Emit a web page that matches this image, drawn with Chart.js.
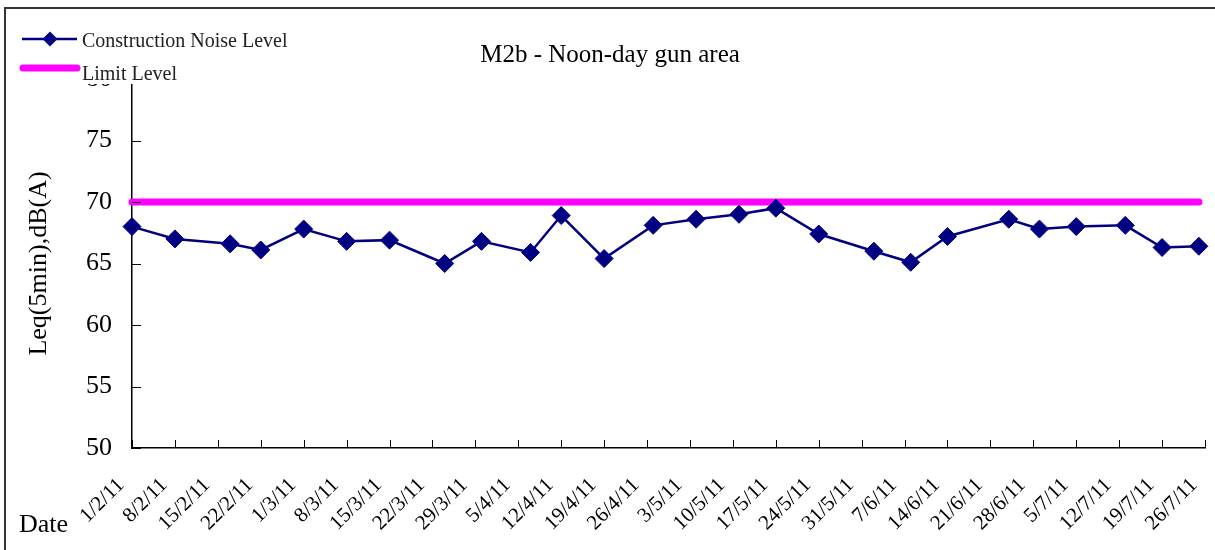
<!DOCTYPE html>
<html>
<head>
<meta charset="utf-8">
<script src="https://cdn.jsdelivr.net/npm/chart.js@4.4.1/dist/chart.umd.min.js"></script>
<style>
  html, body { margin: 0; padding: 0; background: #fff; overflow: hidden; }
  #wrap { width: 1215px; height: 550px; position: relative; }
</style>
</head>
<body>
<div id="wrap"><canvas id="myChart" width="1215" height="550"></canvas></div>
<script>
// sampling dates (d/m/yy) and measured levels
var sampleDates = ['1/2/11', '8/2/11', '17/2/11', '22/2/11', '1/3/11', '8/3/11', '15/3/11',
  '24/3/11', '30/3/11', '7/4/11', '12/4/11', '19/4/11', '27/4/11', '4/5/11', '11/5/11',
  '17/5/11', '24/5/11', '2/6/11', '8/6/11', '14/6/11', '24/6/11', '29/6/11', '5/7/11',
  '13/7/11', '19/7/11', '25/7/11'];
var noiseLevels = [68.0, 67.0, 66.6, 66.1, 67.8, 66.8, 66.9, 65.0, 66.8, 65.9, 68.9, 65.4, 68.1,
  68.6, 69.0, 69.5, 67.4, 66.0, 65.1, 67.2, 68.6, 67.8, 68.0, 68.1, 66.3, 66.4];
var limitLevels = [70, 70, 70, 70, 70, 70, 70, 70, 70, 70, 70, 70, 70,
  70, 70, 70, 70, 70, 70, 70, 70, 70, 70, 70, 70, 70];
var tickLabels = ['1/2/11', '8/2/11', '15/2/11', '22/2/11', '1/3/11', '8/3/11', '15/3/11',
  '22/3/11', '29/3/11', '5/4/11', '12/4/11', '19/4/11', '26/4/11', '3/5/11', '10/5/11',
  '17/5/11', '24/5/11', '31/5/11', '7/6/11', '14/6/11', '21/6/11', '28/6/11', '5/7/11',
  '12/7/11', '19/7/11', '26/7/11'];

var FONT = "'Liberation Serif', 'Times New Roman', serif";

// days since the first tick date
function dayNum(s) {
  var p = s.split('/');
  var t = Date.UTC(2000 + Number(p[2]), Number(p[1]) - 1, Number(p[0]));
  return Math.round((t - Date.UTC(2011, 1, 1)) / 86400000);
}

function toPoints(vals) {
  return sampleDates.map(function(d, i) { return { x: dayNum(d), y: vals[i] }; });
}

var extras = {
  id: 'extras',
  afterDraw: function(chart) {
    var ctx = chart.ctx;
    var xs = chart.scales.x, ys = chart.scales.y;
    ctx.save();
    // inward tick marks
    ctx.strokeStyle = '#000';
    ctx.lineWidth = 1;
    ctx.beginPath();
    ys.ticks.forEach(function(t) {
      var py = Math.round(ys.getPixelForValue(t.value)) + 0.5;
      ctx.moveTo(xs.left, py);
      ctx.lineTo(xs.left + 9, py);
    });
    xs.ticks.forEach(function(t) {
      var px = Math.round(xs.getPixelForValue(t.value)) + 0.5;
      ctx.moveTo(px, ys.bottom);
      ctx.lineTo(px, ys.bottom - 8);
    });
    ctx.stroke();

    // legend box (covers top of axis)
    ctx.fillStyle = '#fff';
    ctx.fillRect(14, 20, 290, 64);
    ctx.lineCap = 'butt';
    ctx.strokeStyle = '#000080';
    ctx.lineWidth = 2.5;
    ctx.beginPath();
    ctx.moveTo(22, 39);
    ctx.lineTo(77, 39);
    ctx.stroke();
    ctx.fillStyle = '#000080';
    ctx.beginPath();
    ctx.moveTo(50, 31.5); ctx.lineTo(57.5, 39); ctx.lineTo(50, 46.5); ctx.lineTo(42.5, 39);
    ctx.closePath();
    ctx.fill();
    ctx.strokeStyle = '#ff00ff';
    ctx.lineWidth = 7;
    ctx.lineCap = 'round';
    ctx.beginPath();
    ctx.moveTo(23, 68);
    ctx.lineTo(77, 68);
    ctx.stroke();

    ctx.fillStyle = '#222';
    ctx.textAlign = 'left';
    ctx.textBaseline = 'alphabetic';
    ctx.font = '20px ' + FONT;
    ctx.fillText('Construction Noise Level', 82, 47);
    ctx.fillText('Limit Level', 82, 80);

    // title
    ctx.fillStyle = '#000';
    ctx.textAlign = 'center';
    ctx.font = '25px ' + FONT;
    ctx.fillText('M2b - Noon-day gun area', 610, 62);

    // x axis name
    ctx.textAlign = 'left';
    ctx.font = '26px ' + FONT;
    ctx.fillText('Date', 19, 532);

    // outer frame
    ctx.strokeStyle = '#333';
    ctx.lineWidth = 2;
    ctx.lineCap = 'butt';
    ctx.beginPath();
    ctx.moveTo(5, 550);
    ctx.lineTo(5, 8);
    ctx.lineTo(1215, 8);
    ctx.stroke();
    ctx.restore();
  }
};

window.onload = function() {
  init();
};

function init() {
  var ctx = document.getElementById('myChart').getContext('2d');
  var chart = new Chart(ctx, {
    type: 'line',
    data: {
      datasets: [{
        label: 'Construction Noise Level',
        data: toPoints(noiseLevels),
        borderColor: '#000080',
        backgroundColor: '#000080',
        borderWidth: 2.5,
        pointStyle: 'rectRot',
        pointRadius: 9,
        pointHoverRadius: 9,
        pointBorderWidth: 1,
        tension: 0,
        clip: false
      }, {
        label: 'Limit Level',
        data: toPoints(limitLevels),
        borderColor: '#ff00ff',
        backgroundColor: '#ff00ff',
        borderWidth: 7,
        borderCapStyle: 'round',
        pointRadius: 0,
        tension: 0,
        clip: false
      }]
    },
    plugins: [extras],
    options: {
      responsive: false,
      animation: false,
      devicePixelRatio: 1,
      layout: { padding: { left: 0, right: 7, top: 79, bottom: 0 } },
      plugins: {
        legend: { display: false },
        title: { display: false },
        tooltip: { enabled: false }
      },
      scales: {
        x: {
          type: 'linear',
          min: 0,
          max: 175,
          grid: { display: false, drawTicks: false },
          border: { display: true, color: '#000', width: 1.5 },
          afterFit: function(scale) {
            scale.height = 102;
            scale.paddingLeft = 0;
            scale.paddingRight = 0;
          },
          ticks: {
            stepSize: 7,
            maxTicksLimit: 40,
            autoSkip: false,
            maxRotation: 45,
            minRotation: 45,
            padding: 25,
            labelOffset: -11,
            color: '#000',
            font: { family: FONT, size: 21 },
            callback: function(v) { return tickLabels[Math.round(v / 7)]; }
          }
        },
        y: {
          min: 50,
          max: 80,
          grid: { display: false, drawTicks: false },
          border: { display: true, color: '#000', width: 1.5 },
          afterFit: function(scale) { scale.width = 132; },
          ticks: {
            stepSize: 5,
            padding: 20,
            color: '#000',
            font: { family: FONT, size: 26 }
          },
          title: {
            display: true,
            text: 'Leq(5min),dB(A)',
            color: '#000',
            font: { family: FONT, size: 26 },
            padding: { top: 24, bottom: 0 }
          }
        }
      }
    }
  });
}
</script>
</body>
</html>
